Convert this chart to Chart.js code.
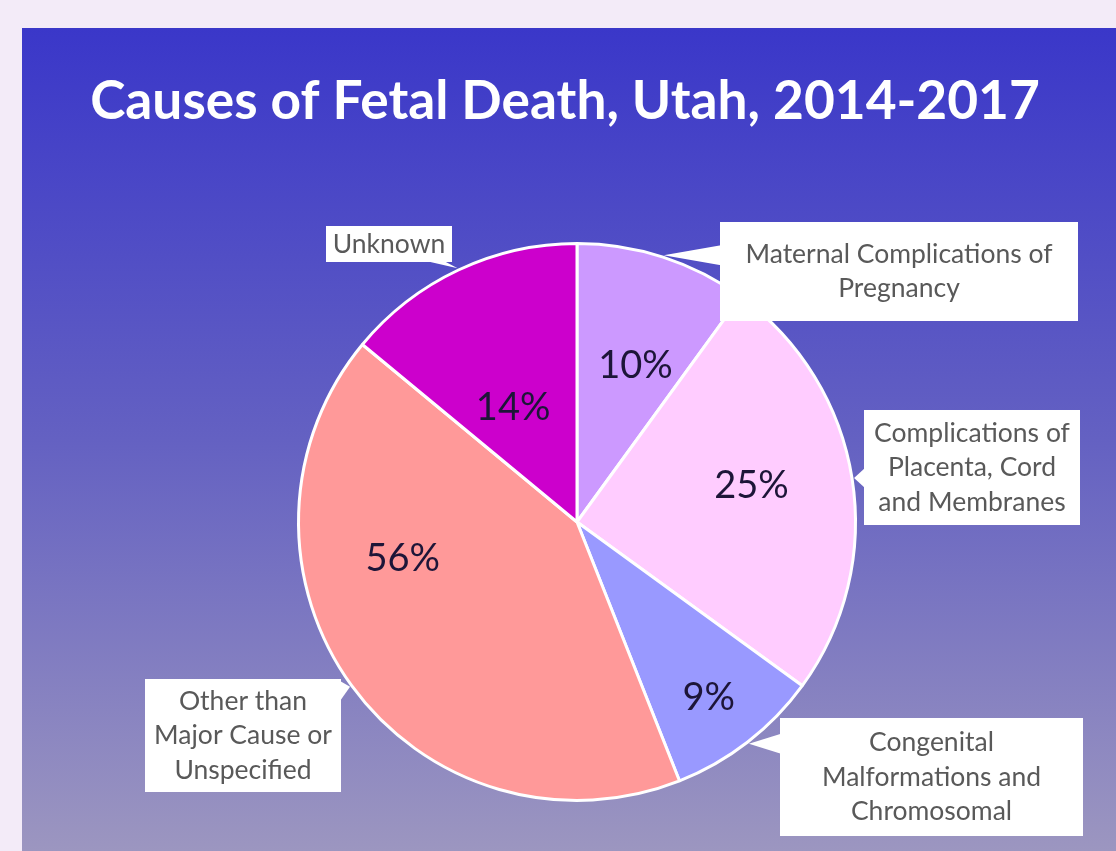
<!DOCTYPE html>
<html>
<head>
<meta charset="utf-8">
<script src="https://cdn.jsdelivr.net/npm/chart.js@4"></script>
<style>
  html, body { margin: 0; padding: 0; }
  body { width: 1116px; height: 851px; background: #f3ebf8; position: relative; overflow: hidden; }
  #panel {
    position: absolute; left: 22px; top: 28px; right: 0; bottom: 0;
    background: linear-gradient(to bottom, #3a37c9 0%, #6461c2 50%, #9c96c0 100%);
  }
  #chart { position: absolute; left: 0; top: 0; }
</style>
</head>
<body>
<div id="panel"></div>
<canvas id="chart" width="1116" height="851"></canvas>
<script>
const title = 'Causes of Fetal Death, Utah, 2014-2017';
const categories = [
  'Maternal Complications of Pregnancy',
  'Complications of Placenta, Cord and Membranes',
  'Congenital Malformations and Chromosomal',
  'Other than Major Cause or Unspecified',
  'Unknown'
];
// slice sizes as drawn in the picture
const shares = [10, 25, 9, 42, 14];
// percentages as printed on the slices
const shareLabels = ['10%', '25%', '9%', '56%', '14%'];
const calloutLines = [
  ['Maternal Complications of', 'Pregnancy'],
  ['Complications of', 'Placenta, Cord', 'and Membranes'],
  ['Congenital', 'Malformations and', 'Chromosomal'],
  ['Other than', 'Major Cause or', 'Unspecified'],
  ['Unknown']
];

const colors = ['#cc99ff', '#ffccff', '#9999ff', '#ff9999', '#cc00cc'];

// callout boxes (layout only)
const boxes = [
  { x: 720, y: 222, w: 358, h: 99 },
  { x: 864, y: 410, w: 216, h: 115 },
  { x: 780, y: 718, w: 303, h: 118 },
  { x: 145, y: 679, w: 196, h: 113 },
  { x: 326, y: 226, w: 126, h: 36 }
];
const labelRadius = [0.6, 0.64, 0.79, 0.64, 0.47];
const labelShift = [2.5, -2.7, 1, 24, -4];

const clamp = (v, a, b) => Math.max(a, Math.min(b, v));

const decorations = {
  id: 'decorations',
  afterDraw(chart) {
    const ctx = chart.ctx;
    const arcs = chart.getDatasetMeta(0).data;
    ctx.save();

    // title
    let size = 48;
    ctx.font = `bold ${size}px Lato`;
    const tw = ctx.measureText(title).width;
    size = size * 950 / tw;
    ctx.font = `bold ${size}px Lato`;
    ctx.fillStyle = '#ffffff';
    ctx.textAlign = 'center';
    ctx.textBaseline = 'alphabetic';
    ctx.fillText(title, 565, 119);

    arcs.forEach((arc, i) => {
      const { x, y, startAngle, endAngle, outerRadius } = arc.getProps(['x', 'y', 'startAngle', 'endAngle', 'outerRadius'], true);
      const mid = (startAngle + endAngle) / 2;

      // percentage label
      const a = mid + labelShift[i] * Math.PI / 180;
      const r = outerRadius * labelRadius[i];
      ctx.font = '38px Lato';
      ctx.fillStyle = '#1d1538';
      ctx.textAlign = 'center';
      ctx.textBaseline = 'middle';
      ctx.fillText(shareLabels[i], x + Math.cos(a) * r, y + Math.sin(a) * r);

      // callout
      const b = boxes[i];
      const tip = { x: x + Math.cos(mid) * (outerRadius + 2), y: y + Math.sin(mid) * (outerRadius + 2) };
      const outX = tip.x < b.x ? b.x - tip.x : (tip.x > b.x + b.w ? tip.x - b.x - b.w : 0);
      const outY = tip.y < b.y ? b.y - tip.y : (tip.y > b.y + b.h ? tip.y - b.y - b.h : 0);
      let p1, p2;
      if (outX >= outY) {
        const sx = tip.x < b.x ? b.x + 1 : b.x + b.w - 1;
        const cy = clamp(tip.y, b.y + 12, b.y + b.h - 12);
        p1 = { x: sx, y: cy - 10 };
        p2 = { x: sx, y: cy + 10 };
      } else {
        const sy = tip.y < b.y ? b.y + 1 : b.y + b.h - 1;
        const cx = clamp(tip.x, b.x + 12, b.x + b.w - 12);
        p1 = { x: cx - 14, y: sy };
        p2 = { x: cx + 4, y: sy };
      }
      ctx.fillStyle = '#ffffff';
      ctx.beginPath();
      ctx.moveTo(tip.x, tip.y);
      ctx.lineTo(p1.x, p1.y);
      ctx.lineTo(p2.x, p2.y);
      ctx.closePath();
      ctx.fill();
      ctx.fillRect(b.x, b.y, b.w, b.h);

      ctx.font = '26.5px Lato';
      ctx.fillStyle = '#595959';
      const lines = calloutLines[i];
      const lh = 34.5;
      const top = b.y + b.h / 2 - (lines.length - 1) * lh / 2;
      lines.forEach((line, j) => {
        ctx.fillText(line, b.x + b.w / 2, top + j * lh);
      });
    });
    ctx.restore();
  }
};

new Chart(document.getElementById('chart'), {
  type: 'pie',
  data: {
    labels: categories,
    datasets: [{
      data: shares,
      backgroundColor: colors,
      borderColor: '#ffffff',
      borderWidth: 3
    }]
  },
  options: {
    responsive: false,
    animation: false,
    layout: { padding: { left: 297, right: 259, top: 242, bottom: 49 } },
    plugins: {
      legend: { display: false },
      tooltip: { enabled: false },
      title: { display: false }
    }
  },
  plugins: [decorations]
});
</script>
</body>
</html>
